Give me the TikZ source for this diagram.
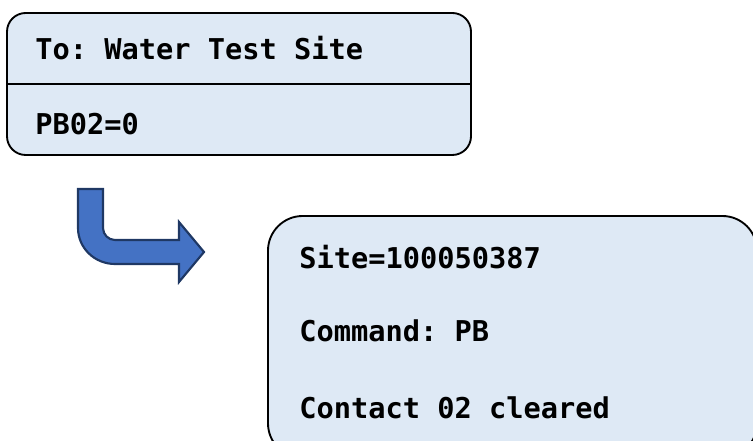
\documentclass[tikz,border=0pt]{standalone}
\usepackage{fontspec}
\newfontfamily\monofont{DejaVu Sans Mono}
\definecolor{boxfill}{HTML}{DEE9F5}
\definecolor{arrowfill}{HTML}{4472C4}
\definecolor{arrowline}{HTML}{1F3864}
\tikzset{
  panel/.style={draw=black, line width=1.4pt, fill=boxfill},
  txt/.style={anchor=base west, inner sep=0pt, font=\monofont\bfseries\fontsize{21.5}{26}\selectfont\frenchspacing},
  blockarrow/.style={fill=arrowfill, draw=arrowline, line width=1.6pt, line join=miter}
}
\begin{document}
\begin{tikzpicture}[x=0.75pt, y=-0.75pt]
\useasboundingbox (0,0) rectangle (753,441);
\clip (0,0) rectangle (753,441);
% top box
\node (top) [panel, rounded corners=14pt, minimum width=348pt, minimum height=106.5pt, inner sep=0pt] at (239,84) {};
\draw[line width=1.2pt] (top.west) -- (top.east);
\node (t1) [txt] at (35,60) {To: Water Test Site};
\node (t2) [txt] at (35,135) {PB02=0};
% bottom box
\node (bot) [panel, rounded corners=26pt, minimum width=366.75pt, minimum height=181.5pt, inner sep=0pt] at (512.5,337) {};
\node (b1) [txt] at (299,269) {Site=100050387};
\node (b2) [txt] at (299,342) {Command: PB};
\node (b3) [txt] at (299,418) {Contact 02 cleared};
% bent block arrow
\draw[blockarrow] (78,189) -- (103,189) -- (103,228)
  .. controls (103,234.6) and (108.4,240) .. (115,240)
  -- (179,240) -- (179,222) -- (204,252) -- (179,282) -- (179,264) -- (115,264)
  .. controls (94.6,264) and (78,247.9) .. (78,228) -- cycle;
\end{tikzpicture}
\end{document}
